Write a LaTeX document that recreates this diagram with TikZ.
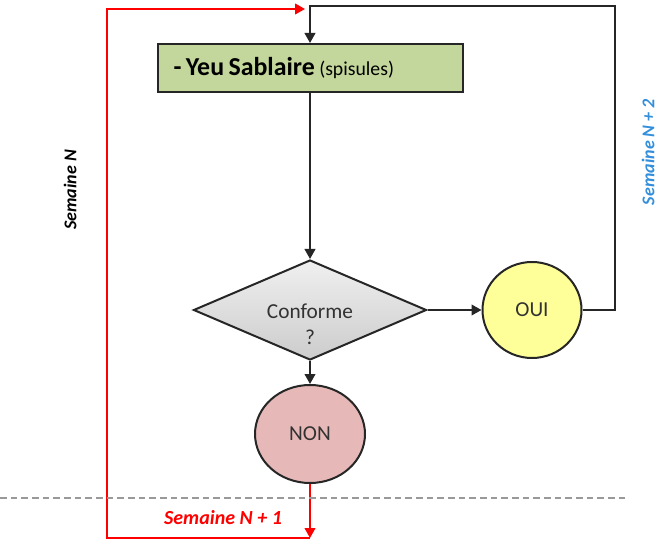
\documentclass[tikz,border=0pt]{standalone}
\usepackage{fontspec}
\setmainfont{Carlito}
\usetikzlibrary{shapes.geometric,arrows.meta}

\definecolor{vertTache}{RGB}{195,214,155}
\definecolor{jauneOui}{RGB}{255,255,153}
\definecolor{roseNon}{RGB}{230,185,184}
\definecolor{bleuSem}{RGB}{51,143,219}
\definecolor{texteGris}{RGB}{50,50,50}

\tikzset{
  tache/.style={draw=black!85, line width=1.5pt, fill=vertTache,
    text width=204.75pt, align=left, inner xsep=12pt, inner ysep=0pt,
    minimum height=36pt},
  test/.style={diamond, draw=black!85, line width=1.5pt, top color=gray!12,
    bottom color=gray!40, shape aspect=2.3, inner sep=0pt,
    minimum width=174.75pt, minimum height=75pt},
  testtexte/.style={align=center, text=texteGris, inner sep=0pt,
    font=\fontsize{16}{19.5}\selectfont},
  issue/.style={ellipse, draw=black!85, line width=1.5pt, inner sep=0pt,
    text=texteGris, font=\fontsize{16}{17}\selectfont},
  fleche/.style={draw=black!85, line width=1.5pt, -{Triangle[length=7.5pt,width=8pt]}},
  rouge/.style={draw=red, line width=1.5pt, -{Triangle[length=7.5pt,width=8pt]}},
  semaine/.style={font=\bfseries\itshape\fontsize{13.5}{15}\selectfont}
}

\begin{document}
\begin{tikzpicture}[x=0.75pt, y=-0.75pt]
 \useasboundingbox (0,0) rectangle (663,541);
 % boites
 \node[tache] (yeu) at (310,68)
   {\fontsize{19.4}{21}\selectfont\textbf{- Yeu Sablaire} {\fontsize{14.8}{16}\selectfont(spisules)}};
 \node[test] (conforme) at (310,310) {};
 \node[testtexte] (conformeQ) at ([yshift=-11pt]conforme.center) {Conforme\\?};
 \node[issue, fill=jauneOui, minimum width=74.25pt, minimum height=72pt] (oui) at (532,310) {OUI};
 \node[issue, fill=roseNon, minimum width=82.5pt, minimum height=73.5pt] (non) at (310,434) {NON};
 % points de passage
 \coordinate (retour) at (615,6);
 \coordinate (bas) at (310,538);
 \coordinate (coinbas) at (107,538);
 \coordinate (haut) at (305,9);
 % fleches
 \draw[fleche] (yeu) -- (conforme);
 \draw[fleche] (conforme) -- (oui);
 \draw[fleche] (conforme) -- (non);
 \draw[fleche] (oui.east) -| (retour) -| (yeu.north);
 \draw[rouge] (non.south) -- (bas);
 \draw[rouge] (bas) -- (coinbas) |- (haut);
 % separation
 \draw[gray!80, line width=1.4pt, dash pattern=on 5pt off 3pt] (0,498) -- (625,498);
 % semaines
 \node[semaine, rotate=90] (semN) at (70,190) {Semaine N};
 \node[semaine, rotate=90, text=bleuSem] (semN2) at (648,152) {Semaine N + 2};
 \node[semaine, text=red, font=\bfseries\itshape\fontsize{15}{17}\selectfont] (semN1) at (223,518) {Semaine N + 1};
\end{tikzpicture}
\end{document}
